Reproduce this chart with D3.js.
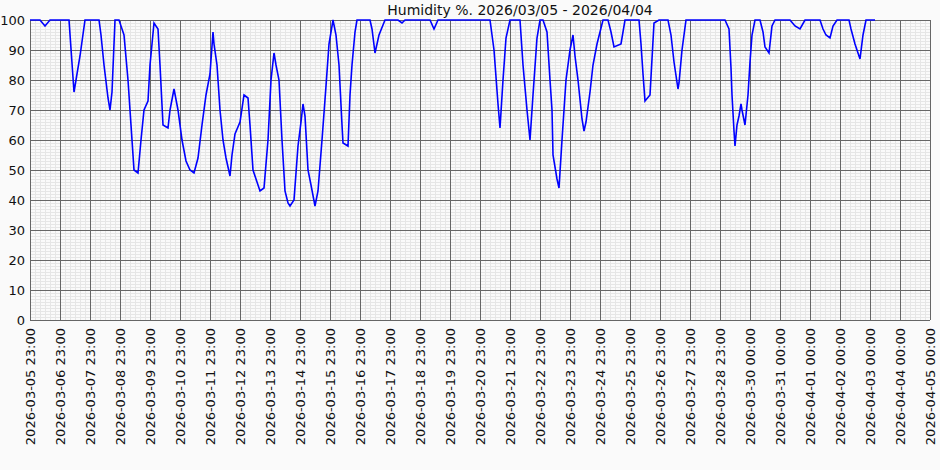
<!DOCTYPE html>
<html><head><meta charset="utf-8">
<script src="https://cdn.jsdelivr.net/npm/d3@7"></script>
<style>body{margin:0;background:#fafafa}svg{display:block}</style>
</head><body><svg id="c" width="940" height="470"></svg>
<script>
const title = "Humidity %. 2026/03/05 - 2026/04/04";
const tickLabels = ["2026-03-05 23:00","2026-03-06 23:00","2026-03-07 23:00","2026-03-08 23:00","2026-03-09 23:00","2026-03-10 23:00","2026-03-11 23:00","2026-03-12 23:00","2026-03-13 23:00","2026-03-14 23:00","2026-03-15 23:00","2026-03-16 23:00","2026-03-17 23:00","2026-03-18 23:00","2026-03-19 23:00","2026-03-20 23:00","2026-03-21 23:00","2026-03-22 23:00","2026-03-23 23:00","2026-03-24 23:00","2026-03-25 23:00","2026-03-26 23:00","2026-03-27 23:00","2026-03-28 23:00","2026-03-30 00:00","2026-03-31 00:00","2026-04-01 00:00","2026-04-02 00:00","2026-04-03 00:00","2026-04-04 00:00","2026-04-05 00:00"];
const yTicks = [0,10,20,30,40,50,60,70,80,90,100];
// samples: [hours since 2026-03-05 23:00, humidity %]
const samples = [[0,100],[8,100],[12,98],[16,100],[31.2,100],[35.2,76],[36.8,80],[40,88],[44,100],[55.2,100],[56.8,95],[59.2,85],[62.4,74],[64,70],[65.6,76],[68,100],[71.2,100],[73.6,97],[75.2,95],[78.4,80],[80.8,65],[83.2,50],[86.4,49],[88.8,60],[91.2,70],[94.4,73],[96,85],[99.2,99],[102.4,97],[104,85],[106.4,65],[110.4,64],[112,70],[115.2,77],[118.4,70],[121.6,60],[124.8,53],[128,50],[131.2,49],[134.4,54],[137.6,65],[140.8,75],[144,82],[146.4,96],[147.2,92],[149.6,85],[152,70],[154.4,60],[156.8,54],[160,48],[161.6,55],[164,62],[168,66],[171.2,75],[174.4,74],[176,65],[178.4,50],[180.8,47],[184,43],[187.2,44],[190.4,60],[192.8,80],[195.2,89],[196.8,85],[199.2,80],[201.6,60],[204,43],[206.4,39],[208,38],[211.2,40],[214.4,58],[216.8,66],[218.4,72],[220,68],[222.4,50],[224.8,45],[228,38],[230.4,43],[233.6,60],[236.8,78],[239.2,92],[242.4,100],[244.8,95],[247.2,85],[249.6,65],[250.4,59],[254.4,58],[256,75],[257.6,85],[260,96],[261.6,100],[272,100],[273.6,97],[276,89],[279.2,95],[284,100],[294.4,100],[297.6,99],[300,100],[320,100],[323.2,97],[326.4,100],[368,100],[371.2,90],[374.4,72],[376,64],[378.4,80],[380.8,94],[384,100],[392,100],[394.4,85],[397.6,70],[400,60],[402.4,75],[405.6,94],[408,100],[410.4,100],[413.6,96],[416,80],[417.6,70],[418.4,55],[421.6,47],[423.2,44],[425.6,60],[428.8,80],[432,90],[434.4,95],[436,88],[438.4,80],[441.6,67],[443.2,63],[444.8,66],[448,76],[450.4,85],[453.6,92],[458.4,100],[462.4,100],[464.8,96],[467.2,91],[472.8,92],[476,100],[487.2,100],[488.8,92],[490.4,82],[492,73],[496,75],[499.2,99],[503.2,100],[510.4,100],[512.8,95],[515.2,86],[518.4,77],[519.2,79],[521.6,90],[524.8,100],[556,100],[559.2,97],[560.8,84],[561.6,75],[563.2,63],[564,58],[565.6,65],[567.2,68],[568.8,72],[569.6,70],[572,65],[574.4,75],[576,86],[577.6,95],[580,100],[584,100],[586.4,96],[588,91],[591.2,89],[593.6,98],[596,100],[608,100],[612,98],[616,97],[620,100],[632,100],[634.4,97],[636.8,95],[640,94],[642.4,98],[645.6,100],[655.2,100],[656.8,97],[660,92],[662.4,89],[664,87],[666.4,95],[668.8,100],[676,100]];

const svg = d3.select("#c");
const L=30,R=930,T=20,B=320;
const x = d3.scaleLinear().domain([0,720]).range([L,R]);
const y = d3.scaleLinear().domain([0,100]).range([B,T]);
const g = svg.append("g");
g.append("rect").attr("x",L).attr("y",T).attr("width",R-L).attr("height",B-T).attr("fill","#fafafa");
const minorX = d3.range(0,181).map(i=>i*4);
const minorY = d3.range(0,101);
g.selectAll(".mx").data(minorX).join("line").attr("x1",d=>Math.round(x(d))+0.5).attr("x2",d=>Math.round(x(d))+0.5).attr("y1",T).attr("y2",B).attr("stroke","#e6e6e6");
g.selectAll(".my").data(minorY).join("line").attr("y1",d=>Math.round(y(d))+0.5).attr("y2",d=>Math.round(y(d))+0.5).attr("x1",L).attr("x2",R).attr("stroke","#e6e6e6");
g.selectAll(".Mx").data(d3.range(0,31)).join("line").attr("x1",d=>Math.round(x(d*24))+0.5).attr("x2",d=>Math.round(x(d*24))+0.5).attr("y1",T).attr("y2",B).attr("stroke","#666");
g.selectAll(".My").data(yTicks).join("line").attr("y1",d=>Math.round(y(d))+0.5).attr("y2",d=>Math.round(y(d))+0.5).attr("x1",L).attr("x2",R).attr("stroke","#666");
g.selectAll(".yl").data(yTicks).join("text").attr("x",L-5).attr("y",d=>y(d)+5).attr("text-anchor","end")
 .attr("font-family","DejaVu Sans").attr("font-size",13).attr("fill","#111").text(d=>d);
g.selectAll(".xl").data(tickLabels).join("text")
 .attr("transform",(d,i)=>`translate(${x(i*24)+5},${B+8}) rotate(-90)`).attr("text-anchor","end")
 .attr("font-family","DejaVu Sans").attr("font-size",13).attr("fill","#111").text(d=>d);
svg.append("text").attr("x",520).attr("y",15).attr("text-anchor","middle").attr("font-family","DejaVu Sans").attr("font-size",14).attr("fill","#111").text(title);
g.append("path").datum(samples).attr("fill","none").attr("stroke","#0000ff").attr("stroke-width",1.6)
 .attr("d",d3.line().x(d=>x(d[0])).y(d=>y(d[1])));
</script></body></html>
